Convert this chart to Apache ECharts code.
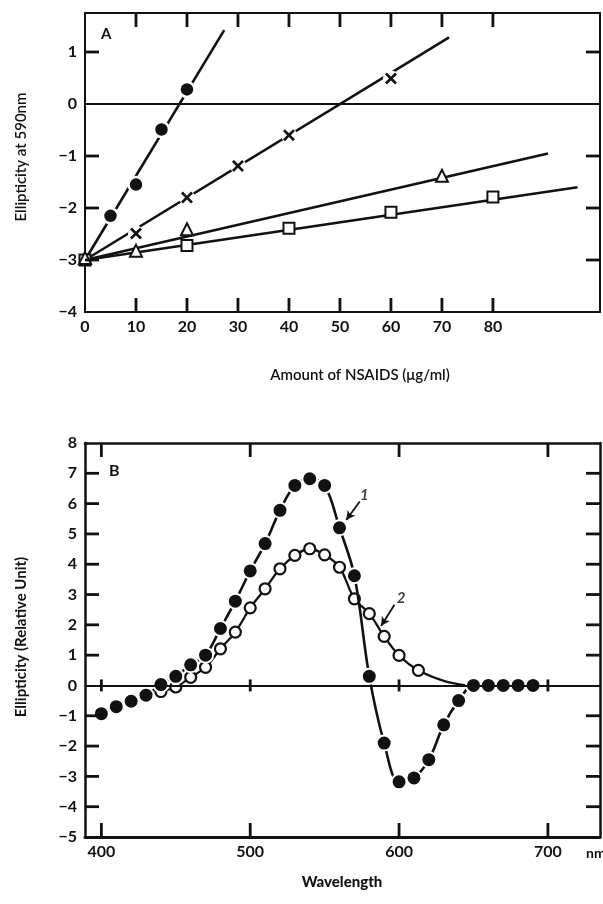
<!DOCTYPE html>
<html><head><meta charset="utf-8">
<script src="https://cdn.jsdelivr.net/npm/echarts@6/dist/echarts.min.js"></script>
<style>html,body{margin:0;padding:0;background:#fff}#c{width:603px;height:904px}</style>
</head><body><div id="c"></div>
<script>
// ---------- Panel A ----------
const aXLabels = [0,10,20,30,40,50,60,70,80];
const aXTicks = [10,20,30,40,50,60,70,80];
const aYLabels = [-4,-3,-2,-1,0,1];
const aYTicks = [-3,-2,-1,1];
const aCircle = [[5,-2.15],[10,-1.55],[15,-0.49],[20,0.28]];
const aCircleFit = [[0,-3],[27.3,1.42]];
const aCross = [[10,-2.49],[20,-1.8],[30,-1.19],[40,-0.6],[60,0.49]];
const aCrossFit = [[0,-3],[71.4,1.28]];
const aTri = [[0,-2.96],[10,-2.82],[20,-2.41],[70,-1.38]];
const aTriFit = [[0,-3],[90.8,-0.95]];
const aSq = [[0,-3],[20,-2.72],[40,-2.39],[60,-2.08],[80,-1.79]];
const aSqFit = [[0,-3],[96.6,-1.6]];

// ---------- Panel B ----------
const bXTicks = [400,500,600,700];
const bYTicks = [-4,-3,-2,-1,1,2,3,4,5,6,7];
const bYLabels = [-5,-4,-3,-2,-1,0,1,2,3,4,5,6,7,8];
const bWave1 = [400,410,420,430,440,450,460,470,480,490,500,510,520,530,540,550,560,570,580,590,600,610,620,630,640,650,660,670,680,690];
const bVal1 = [-0.93,-0.7,-0.52,-0.32,0.03,0.3,0.68,1.0,1.88,2.78,3.78,4.68,5.78,6.6,6.82,6.6,5.2,3.62,0.3,-1.9,-3.18,-3.05,-2.45,-1.3,-0.5,0,0,0,0,0];
const bWave2 = [440,450,460,470,480,490,500,510,520,530,540,550,560,570,580,590,600,613];
const bVal2 = [-0.2,-0.05,0.27,0.6,1.21,1.76,2.56,3.19,3.85,4.29,4.51,4.31,3.9,2.86,2.37,1.62,0.99,0.5];
const bTail2 = [[630,0.15],[645,0]];
const arrow1 = [[573.6,6.07],[564.5,5.46]];
const label1 = [576.7,6.29];
const arrow2 = [[596.9,2.66],[587.9,1.96]];
const label2 = [601.3,2.88];

const INK = '#111';
const FONT = 'Lato';
const A_XMIN = 0, A_XMAX = 101, A_YMIN = -4, A_YMAX = 1.75;
const B_XMIN = 389, B_XMAX = 735, B_YMIN = -5, B_YMAX = 8;
const TICK_PX = 14;

function xAxis(grid, pos, min, max, labelVals, lw) {
  return {
    type: 'value', gridIndex: grid, position: pos, min: min, max: max,
    axisLine: { show: true, onZero: false, lineStyle: { color: INK, width: lw } },
    axisTick: { show: false },
    axisLabel: labelVals ? { show: true, customValues: labelVals, margin: 7, color: INK, fontFamily: FONT, fontWeight: 'bold', fontSize: 16 } : { show: false },
    splitLine: { show: false }
  };
}
function yAxis(grid, pos, min, max, labelVals, lw) {
  return {
    type: 'value', gridIndex: grid, position: pos, min: min, max: max,
    axisLine: { show: true, onZero: false, lineStyle: { color: INK, width: lw } },
    axisTick: { show: false },
    axisLabel: labelVals ? { show: true, customValues: labelVals, margin: 8, color: INK, fontFamily: FONT, fontWeight: 'bold', fontSize: 16,
      formatter: v => (v < 0 ? '\u2212' + Math.abs(v) : String(v)) } : { show: false },
    splitLine: { show: false }
  };
}

// frame ticks: [x, y, dirX, dirY, halfBoth]
function tickData(xTicks, yTicks, xmin, xmax, ymin, ymax, zero) {
  const d = [];
  xTicks.forEach(x => { d.push([x, ymin, 0, -1, 0]); d.push([x, ymax, 0, 1, 0]); if (zero) d.push([x, 0, 0, 1, 1]); });
  yTicks.forEach(y => { d.push([xmin, y, 1, 0, 0]); d.push([xmax, y, -1, 0, 0]); });
  return d;
}
const tickSeries = (xi, yi, data) => ({
  type: 'custom', xAxisIndex: xi, yAxisIndex: yi, data: data, silent: true, z: 10, clip: false,
  encode: { x: 0, y: 1 },
  renderItem: function (params, api) {
    const p = api.coord([api.value(0), api.value(1)]);
    const dx = api.value(2), dy = api.value(3), both = api.value(4);
    const L = both ? 6 : TICK_PX;
    const s = both ? -L : 0;
    return {
      type: 'line',
      shape: { x1: p[0] + dx * s, y1: p[1] + dy * s, x2: p[0] + dx * L, y2: p[1] + dy * L },
      style: { stroke: INK, lineWidth: 2.8 }
    };
  }
});

const fitLine = (data) => ({
  type: 'line', xAxisIndex: 0, yAxisIndex: 0, data: data, symbol: 'none',
  lineStyle: { color: INK, width: 2.6 }, z: 2
});

const crossPath = 'path://M0,1.6L1.6,0L5,3.4L8.4,0L10,1.6L6.6,5L10,8.4L8.4,10L5,6.6L1.6,10L0,8.4L3.4,5Z';

const series = [
  fitLine(aCircleFit), fitLine(aCrossFit), fitLine(aTriFit), fitLine(aSqFit),
  { type: 'line', xAxisIndex: 0, yAxisIndex: 0, data: [], symbol: 'none',
    markLine: { silent: true, symbol: 'none', label: { show: false }, lineStyle: { color: INK, width: 2, type: 'solid' },
      data: [{ yAxis: 0 }] }, z: 2 },
  { type: 'scatter', xAxisIndex: 0, yAxisIndex: 0, data: aCross, symbol: 'circle', symbolSize: 16,
    itemStyle: { color: '#fff', opacity: 1 }, z: 3 },
  { type: 'scatter', xAxisIndex: 0, yAxisIndex: 0, data: aCross, symbol: crossPath, symbolSize: 12,
    itemStyle: { color: INK, opacity: 1 }, z: 4 },
  { type: 'scatter', xAxisIndex: 0, yAxisIndex: 0, data: aCircle, symbol: 'circle', symbolSize: 15,
    itemStyle: { color: INK, borderColor: '#fff', borderWidth: 2.5, opacity: 1 }, z: 4 },
  { type: 'scatter', xAxisIndex: 0, yAxisIndex: 0, data: aSq, symbol: 'rect', symbolSize: 11,
    itemStyle: { color: '#fff', borderColor: INK, borderWidth: 2, opacity: 1 }, z: 4 },
  { type: 'scatter', xAxisIndex: 0, yAxisIndex: 0, data: aTri, symbol: 'triangle', symbolSize: 12,
    itemStyle: { color: '#fff', borderColor: INK, borderWidth: 2, opacity: 1 }, z: 5 },

  // Panel B
  { type: 'line', xAxisIndex: 2, yAxisIndex: 2, data: [], symbol: 'none',
    markLine: { silent: true, symbol: 'none', label: { show: false }, lineStyle: { color: INK, width: 2, type: 'solid' },
      data: [{ yAxis: 0 }] }, z: 2 },
  { type: 'line', xAxisIndex: 2, yAxisIndex: 2, smooth: 0.35,
    data: bWave2.map((w, i) => [w, bVal2[i]]).concat(bTail2.map(p => ({ value: p, symbol: 'none' }))),
    symbol: 'circle', symbolSize: 11, showSymbol: true,
    lineStyle: { color: INK, width: 2.3 }, itemStyle: { color: '#fff', borderColor: INK, borderWidth: 2.2 }, z: 3,
    markLine: { silent: true, symbol: ['none', 'arrow'], symbolSize: [7, 9], label: { show: false },
      lineStyle: { color: INK, width: 1.8, type: 'solid' },
      data: [[{ coord: arrow2[0] }, { coord: arrow2[1] }]] } },
  { type: 'line', xAxisIndex: 2, yAxisIndex: 2, smooth: 0.35,
    data: bWave1.map((w, i) => [w, bVal1[i]]),
    symbol: 'circle', symbolSize: 15, showSymbol: true,
    lineStyle: { color: INK, width: 2.6 }, itemStyle: { color: INK, borderColor: '#fff', borderWidth: 2 }, z: 4,
    markLine: { silent: true, symbol: ['none', 'arrow'], symbolSize: [7, 9], label: { show: false },
      lineStyle: { color: INK, width: 1.8, type: 'solid' },
      data: [[{ coord: arrow1[0] }, { coord: arrow1[1] }]] } },
  { type: 'scatter', xAxisIndex: 2, yAxisIndex: 2, symbolSize: 1, itemStyle: { color: 'rgba(0,0,0,0)' },
    data: [{ value: label1, label: { formatter: '1' } }, { value: label2, label: { formatter: '2' } }],
    label: { show: true, position: 'inside', color: INK, fontFamily: FONT, fontWeight: 'bold', fontSize: 15, fontStyle: 'italic' }, z: 6 },

  tickSeries(0, 0, tickData(aXTicks, aYTicks, A_XMIN, A_XMAX, A_YMIN, A_YMAX, false)),
  tickSeries(2, 2, tickData(bXTicks, bYTicks, B_XMIN, B_XMAX, B_YMIN, B_YMAX, true))
];

const chart = echarts.init(document.getElementById('c'), null, { renderer: 'canvas' });
chart.setOption({
  animation: false,
  backgroundColor: '#fff',
  grid: [
    { left: 85, right: 3, top: 13, height: 299 },
    { left: 85, right: 3, top: 443, height: 394 }
  ],
  xAxis: [
    xAxis(0, 'bottom', A_XMIN, A_XMAX, aXLabels, 2),
    xAxis(0, 'top', A_XMIN, A_XMAX, null, 2),
    xAxis(1, 'bottom', B_XMIN, B_XMAX, bXTicks, 3),
    xAxis(1, 'top', B_XMIN, B_XMAX, null, 2.5)
  ],
  yAxis: [
    yAxis(0, 'left', A_YMIN, A_YMAX, aYLabels, 2),
    yAxis(0, 'right', A_YMIN, A_YMAX, null, 2),
    yAxis(1, 'left', B_YMIN, B_YMAX, bYLabels, 2.5),
    yAxis(1, 'right', B_YMIN, B_YMAX, null, 2.5)
  ],
  graphic: [
    { type: 'text', left: 101, top: 27, style: { text: 'A', fill: INK, font: 'bold 15px Lato' } },
    { type: 'text', left: 109, top: 463, style: { text: 'B', fill: INK, font: 'bold 16px Lato' } },
    { type: 'text', x: 21, y: 157, rotation: Math.PI / 2,
      style: { text: 'Ellipticity at 590nm', fill: INK, font: '600 15px Lato', align: 'center', verticalAlign: 'middle' } },
    { type: 'text', x: 360, y: 375,
      style: { text: 'Amount of NSAIDS (\u03bcg/ml)', fill: INK, font: '600 15px Lato', align: 'center', verticalAlign: 'middle' } },
    { type: 'text', x: 21, y: 637, rotation: Math.PI / 2,
      style: { text: 'Ellipticity (Relative Unit)', fill: INK, font: 'bold 15px Lato', align: 'center', verticalAlign: 'middle' } },
    { type: 'text', x: 342, y: 882,
      style: { text: 'Wavelength', fill: INK, font: '900 15px Lato', align: 'center', verticalAlign: 'middle' } },
    { type: 'text', x: 586, y: 853,
      style: { text: 'nm', fill: INK, font: 'bold 14px Lato', align: 'left', verticalAlign: 'middle' } }
  ],
  series: series
});
</script>
</body></html>
